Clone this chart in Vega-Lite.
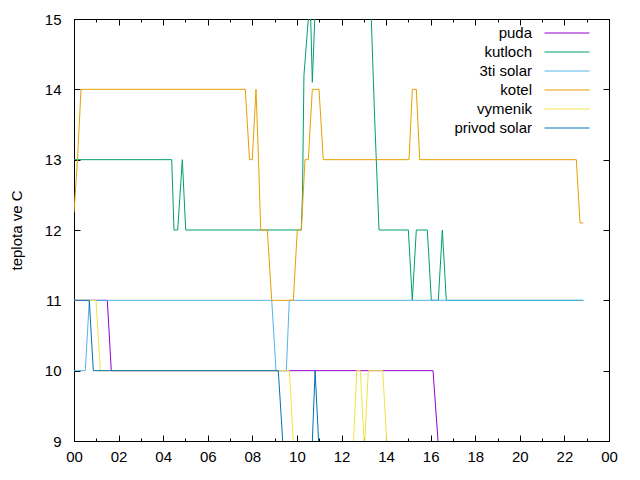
{
  "$schema": "https://vega.github.io/schema/vega-lite/v6.json",
  "width": 535,
  "height": 422,
  "autosize": {"type": "none"},
  "padding": {"left": 74, "top": 19, "right": 31, "bottom": 39},
  "background": "white",
  "config": {
    "font": "Liberation Sans",
    "view": {"stroke": "black", "strokeWidth": 1},
    "axis": {"grid": false, "domainColor": "black", "tickColor": "black", "labelColor": "black", "labelFontSize": 15, "labelFont": "Liberation Sans", "titleFont": "Liberation Sans", "titleFontWeight": "normal", "titleColor": "black"}
  },
  "data": {"values": [
    {"s": "puda", "t": 0, "v": 11}, {"s": "puda", "t": 1.494, "v": 11}, {"s": "puda", "t": 1.673, "v": 10}, {"s": "puda", "t": 16.106, "v": 10}, {"s": "puda", "t": 16.33, "v": 9}, {"s": "puda", "t": 16.5, "v": 8}, {"s": "puda", "t": 22.849, "v": 8},
    {"s": "kutloch", "t": 0, "v": 13}, {"s": "kutloch", "t": 4.383, "v": 13}, {"s": "kutloch", "t": 4.486, "v": 12}, {"s": "kutloch", "t": 4.652, "v": 12}, {"s": "kutloch", "t": 4.859, "v": 13}, {"s": "kutloch", "t": 5.011, "v": 12}, {"s": "kutloch", "t": 10.197, "v": 12}, {"s": "kutloch", "t": 10.25, "v": 12.5}, {"s": "kutloch", "t": 10.315, "v": 14.2}, {"s": "kutloch", "t": 10.511, "v": 15}, {"s": "kutloch", "t": 10.57, "v": 15.6}, {"s": "kutloch", "t": 10.691, "v": 14.1}, {"s": "kutloch", "t": 10.9, "v": 15.8}, {"s": "kutloch", "t": 13.25, "v": 15.8}, {"s": "kutloch", "t": 13.49, "v": 13.57}, {"s": "kutloch", "t": 13.683, "v": 12}, {"s": "kutloch", "t": 14.998, "v": 12}, {"s": "kutloch", "t": 15.177, "v": 11}, {"s": "kutloch", "t": 15.356, "v": 12}, {"s": "kutloch", "t": 15.85, "v": 12}, {"s": "kutloch", "t": 16.03, "v": 11}, {"s": "kutloch", "t": 16.344, "v": 11}, {"s": "kutloch", "t": 16.523, "v": 12}, {"s": "kutloch", "t": 16.702, "v": 11}, {"s": "kutloch", "t": 22.849, "v": 11},
    {"s": "3ti solar", "t": 0, "v": 10}, {"s": "3ti solar", "t": 0.507, "v": 10}, {"s": "3ti solar", "t": 0.686, "v": 11}, {"s": "3ti solar", "t": 8.87, "v": 11}, {"s": "3ti solar", "t": 9.062, "v": 10}, {"s": "3ti solar", "t": 9.524, "v": 10}, {"s": "3ti solar", "t": 9.659, "v": 11}, {"s": "3ti solar", "t": 22.849, "v": 11},
    {"s": "kotel", "t": 0, "v": 12.25}, {"s": "kotel", "t": 0.157, "v": 13}, {"s": "kotel", "t": 0.314, "v": 14}, {"s": "kotel", "t": 7.685, "v": 14}, {"s": "kotel", "t": 7.873, "v": 13}, {"s": "kotel", "t": 7.999, "v": 13}, {"s": "kotel", "t": 8.165, "v": 14}, {"s": "kotel", "t": 8.277, "v": 13}, {"s": "kotel", "t": 8.376, "v": 12}, {"s": "kotel", "t": 8.672, "v": 12}, {"s": "kotel", "t": 8.87, "v": 11}, {"s": "kotel", "t": 9.838, "v": 11}, {"s": "kotel", "t": 10.018, "v": 12}, {"s": "kotel", "t": 10.197, "v": 12}, {"s": "kotel", "t": 10.363, "v": 13}, {"s": "kotel", "t": 10.511, "v": 13}, {"s": "kotel", "t": 10.691, "v": 14}, {"s": "kotel", "t": 10.991, "v": 14}, {"s": "kotel", "t": 11.184, "v": 13}, {"s": "kotel", "t": 15.029, "v": 13}, {"s": "kotel", "t": 15.177, "v": 14}, {"s": "kotel", "t": 15.356, "v": 14}, {"s": "kotel", "t": 15.509, "v": 13}, {"s": "kotel", "t": 22.535, "v": 13}, {"s": "kotel", "t": 22.7, "v": 12.1}, {"s": "kotel", "t": 22.849, "v": 12.1},
    {"s": "vymenik", "t": 0, "v": 11}, {"s": "vymenik", "t": 0.987, "v": 11}, {"s": "vymenik", "t": 1.18, "v": 10}, {"s": "vymenik", "t": 9.659, "v": 10}, {"s": "vymenik", "t": 9.838, "v": 9}, {"s": "vymenik", "t": 9.95, "v": 8}, {"s": "vymenik", "t": 12.4, "v": 8}, {"s": "vymenik", "t": 12.54, "v": 9}, {"s": "vymenik", "t": 12.683, "v": 10}, {"s": "vymenik", "t": 12.844, "v": 10}, {"s": "vymenik", "t": 13.026, "v": 8.9}, {"s": "vymenik", "t": 13.203, "v": 10}, {"s": "vymenik", "t": 13.849, "v": 10}, {"s": "vymenik", "t": 14.029, "v": 9}, {"s": "vymenik", "t": 14.15, "v": 8}, {"s": "vymenik", "t": 22.849, "v": 8},
    {"s": "privod solar", "t": 0, "v": 11}, {"s": "privod solar", "t": 0.686, "v": 11}, {"s": "privod solar", "t": 0.866, "v": 10}, {"s": "privod solar", "t": 9.165, "v": 10}, {"s": "privod solar", "t": 9.363, "v": 9}, {"s": "privod solar", "t": 9.5, "v": 8}, {"s": "privod solar", "t": 10.57, "v": 8}, {"s": "privod solar", "t": 10.815, "v": 10}, {"s": "privod solar", "t": 11.13, "v": 8}, {"s": "privod solar", "t": 22.849, "v": 8}
  ]},
  "layer": [
    {
      "mark": {"type": "line", "strokeWidth": 1, "clip": true},
      "encoding": {
        "x": {"field": "t", "type": "quantitative", "scale": {"domain": [0, 24], "nice": false},
          "axis": {"orient": "bottom", "title": null, "values": [0,1,2,3,4,5,6,7,8,9,10,11,12,13,14,15,16,17,18,19,20,21,22,23,24],
            "labelExpr": "datum.value % 2 == 0 ? ((datum.value % 24) < 10 ? '0' + (datum.value % 24) : '' + datum.value) : ''",
            "tickSize": {"condition": {"test": "datum.value % 2 == 1", "value": -3}, "value": -6},
            "labelPadding": 14, "labelFlush": false, "labelOverlap": false, "domain": true}},
        "y": {"field": "v", "type": "quantitative", "scale": {"domain": [9, 15], "nice": false, "zero": false},
          "axis": {"orient": "left", "title": "teplota ve C", "titleFontSize": 15, "titlePadding": 20, "values": [9,10,11,12,13,14,15], "tickSize": -6, "labelPadding": 19, "labelOverlap": false, "labelFlush": false}},
        "color": {"field": "s", "type": "nominal",
          "scale": {"domain": ["puda", "kutloch", "3ti solar", "kotel", "vymenik", "privod solar"], "range": ["#9400d3", "#009e73", "#56b4e9", "#e69f00", "#f0e442", "#0072b2"]},
          "legend": {"title": null, "orient": "none", "legendX": 485, "legendY": 6, "padding": 0, "offset": 0, "symbolType": "M-3,0H3", "symbolSize": 225, "symbolStrokeWidth": 1, "symbolOpacity": 1, "rowPadding": 3, "labelAlign": "right", "labelOffset": -43, "labelFontSize": 15, "labelFont": "Liberation Sans", "labelColor": "black", "labelLimit": 0}}
      }
    },
    {
      "transform": [{"filter": "false"}],
      "mark": {"type": "line"},
      "encoding": {
        "x": {"field": "t", "type": "quantitative", "scale": {"domain": [0, 24], "nice": false},
          "axis": {"orient": "top", "title": null, "values": [0,1,2,3,4,5,6,7,8,9,10,11,12,13,14,15,16,17,18,19,20,21,22,23,24], "labels": false,
            "tickSize": {"condition": {"test": "datum.value % 2 == 1", "value": -3}, "value": -6}}},
        "y": {"field": "v", "type": "quantitative", "scale": {"domain": [9, 15], "nice": false, "zero": false},
          "axis": {"orient": "right", "title": null, "values": [9,10,11,12,13,14,15], "labels": false, "tickSize": -6}}
      }
    }
  ],
  "resolve": {"axis": {"x": "independent", "y": "independent"}}
}
